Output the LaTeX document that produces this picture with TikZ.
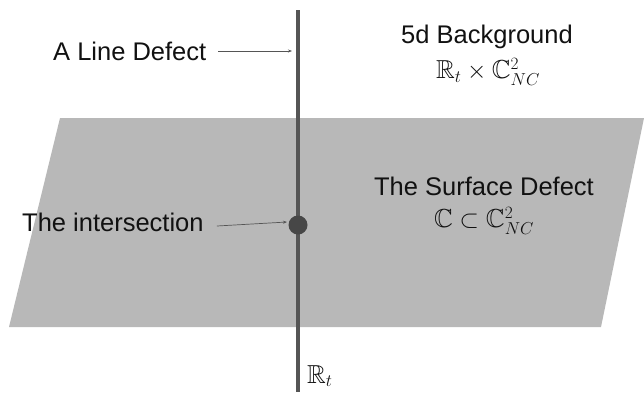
\documentclass[tikz,border=0pt]{standalone}
\usetikzlibrary{arrows.meta}
\usepackage{amssymb}
\usepackage{fontspec}
\setmainfont{Liberation Sans}
\definecolor{planegray}{HTML}{B8B8B8}
\definecolor{linegray}{HTML}{555555}
\definecolor{dotgray}{HTML}{474747}
\definecolor{textgray}{HTML}{111111}
\begin{document}
\begin{tikzpicture}[x=1pt,y=-1pt,
  lbl/.style={font=\fontsize{25.5}{30}\selectfont, text=textgray, inner sep=0pt},
  mth/.style={font=\fontsize{26}{30}\selectfont, text=textgray, inner sep=0pt},
  ptr/.style={draw=linegray, line width=0.7pt, -{Stealth[length=4pt,width=3pt]}}]
\useasboundingbox (0,0) rectangle (644,392);
% plane
\fill[planegray] (60,118) coordinate (p1) -- (644,118) coordinate (p2) -- (601,327) coordinate (p3) -- (9,327) coordinate (p4) -- cycle;
% line defect
\coordinate (ltop) at (298,10);
\coordinate (lbot) at (298,392);
\draw[linegray, line width=3.2pt] (ltop) -- (lbot);
% intersection dot
\node[circle, fill=dotgray, minimum size=19pt, inner sep=0pt] (dot) at (298,225) {};
% labels
\node[lbl, anchor=west] (line) at (53,51) {A Line Defect};
\coordinate (lineend) at (292,51);
\draw[ptr] ([xshift=12pt]line.east) -- (lineend);
\node[lbl] (bg) at (487,37) {5d Background};
\node[mth] (bgm) at (488,72) {$\mathbb{R}_t \times \mathbb{C}^2_{NC}$};
\node[lbl] (sd) at (484,186) {The Surface Defect};
\node[mth] (sdm) at (484,221) {$\mathbb{C} \subset \mathbb{C}^2_{NC}$};
\node[lbl, anchor=west] (inter) at (22,222) {The intersection};
\coordinate (interend) at (287,222);
\draw[ptr] ([xshift=13pt,yshift=-4pt]inter.east) -- (interend);
\node[mth, anchor=west] (rt) at (307,376) {$\mathbb{R}_t$};
\end{tikzpicture}
\end{document}
